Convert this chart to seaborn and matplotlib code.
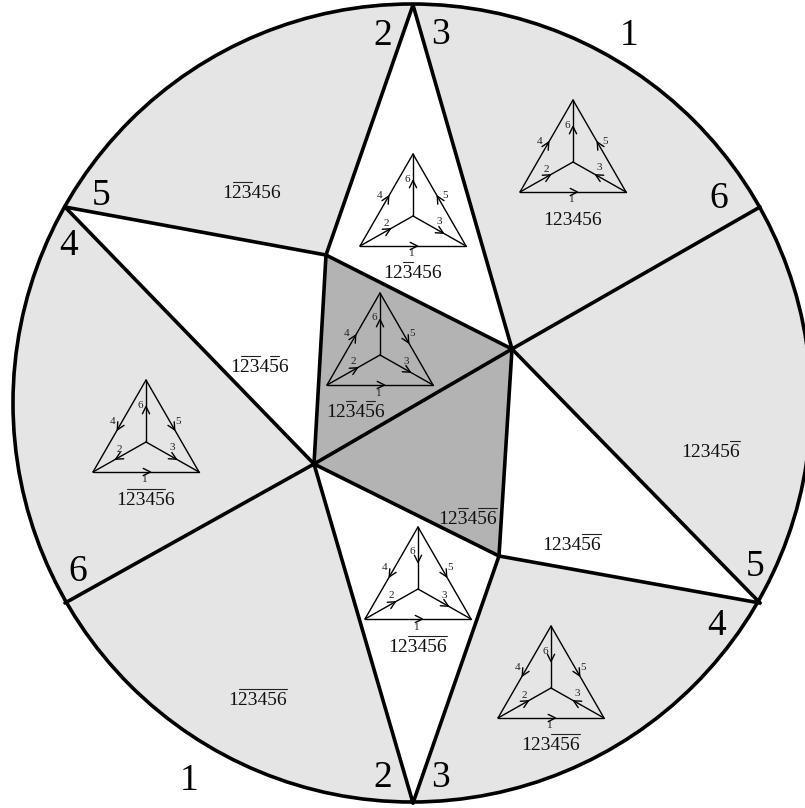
import pandas as pd
import numpy as np
import matplotlib
matplotlib.use("Agg")
import matplotlib.pyplot as plt
from matplotlib.patches import Circle
import seaborn as sns

# Outer circle and the vertices of the star (pixel coords of the picture)
circle_center = (412, 403)
circle_radius = 399
top = (413, 5)
bottom = (413, 803)
left_up = (65, 207)
left_down = (65, 603)
right_up = (760, 207)
right_down = (760, 603)
a = (326, 255)
b = (512, 349)
c = (314, 464)
d = (499, 556)

white_regions = [[top, a, b], [a, left_up, c], [b, right_down, d], [c, d, bottom]]
dark_region = [a, b, d, c]
thick_edges = [(top, a), (top, b), (a, left_up), (b, right_up), (left_up, c), (left_down, c),
               (right_down, b), (right_down, d), (bottom, c), (bottom, d), (a, b), (a, c), (b, c),
               (c, d), (b, d)]

# Small trivalent diagrams: centre of each one and which edges are barred
diagram_centers = [(573, 162), (413, 216), (380, 355), (146, 442), (418, 589), (551, 688)]
diagram_bars = [[], [3], [3, 5], [2, 3, 4, 5], [3, 4, 5, 6], [4, 5, 6]]

# Shape of a diagram around its centre
apex = (0, -62)
corner_l = (-53, 30)
corner_r = (53, 30)
centre = (0, 0)
edge_ends = {1: (corner_l, corner_r), 2: (corner_l, centre), 3: (corner_r, centre),
             4: (corner_l, apex), 5: (corner_r, apex), 6: (centre, apex)}
edge_num_pos = {1: (-1, 38), 2: (-27, 7), 3: (26, 6), 4: (-33, -21), 5: (32, -21), 6: (-6, -37)}

# Region names: digits are always 123456, only the bars change
name_bars = [[], [3], [3, 5], [2, 3, 4, 5], [3, 4, 5, 6], [4, 5, 6],
             [2, 3], [2, 3, 5], [6], [3, 5, 6], [5, 6], [2, 3, 4, 5, 6]]
name_x = [573, 413, 356, 146, 418, 551, 252, 260, 711, 468, 572, 258]
name_baseline = [225, 278, 417, 505, 652, 750, 198, 372, 457, 524, 550, 705]

# Big numbers round the circle
rim_labels = ["2", "3", "1", "6", "5", "4", "6", "1", "2", "3", "5", "4"]
rim_x = [383, 440, 629, 719, 101, 69, 78, 189, 383, 440, 755, 717]
rim_y = [36, 35, 36, 199, 196, 246, 572, 781, 778, 778, 567, 626]


def lines_frame(segments):
    rows = []
    for i, seg in enumerate(segments):
        for x, y in seg:
            rows.append({"x": x, "y": y, "seg": i})
    return pd.DataFrame(rows)


def chevron(p, q, off, bar):
    # open arrow head half way along p->q, reversed if the edge is barred
    p = np.array(p, float)
    q = np.array(q, float)
    u = (q - p) / np.linalg.norm(q - p)
    if bar:
        u = -u
    mid = (p + q) / 2
    tip = mid + 4.5 * u
    n = np.array([-u[1], u[0]])
    back = tip - 7.3 * u
    off = np.array(off)
    return [back + 3.6 * n + off, tip + off, back - 3.6 * n + off]


sns.set_theme(style="white")
plt.rcParams['font.family'] = ['Liberation Serif', 'DejaVu Serif']

fig = plt.figure(figsize=(8.05, 8.08), dpi=100)
ax = fig.add_axes([0, 0, 1, 1])

ax.add_patch(Circle(circle_center, circle_radius, facecolor="#e5e5e5", edgecolor="none", zorder=1))
for poly in white_regions:
    ax.fill(*zip(*poly), color="white", lw=0, zorder=2)
ax.fill(*zip(*dark_region), color="#b3b3b3", lw=0, zorder=2)
ax.add_patch(Circle(circle_center, circle_radius, facecolor="none", edgecolor="black", lw=2.6, zorder=4))

sns.lineplot(data=lines_frame(thick_edges), x="x", y="y", units="seg", estimator=None, sort=False,
             color="black", lw=2.6, ax=ax, zorder=3, legend=False)

thin = []
for (cx, cy), bars in zip(diagram_centers, diagram_bars):
    off = (cx, cy)
    for n, (p, q) in edge_ends.items():
        thin.append([(p[0] + cx, p[1] + cy), (q[0] + cx, q[1] + cy)])
        thin.append(chevron(p, q, off, n in bars))
        nx, ny = edge_num_pos[n]
        ax.text(cx + nx, cy + ny, str(n), fontsize=8, ha="center", va="center", color="#222222", zorder=6)
sns.lineplot(data=lines_frame(thin), x="x", y="y", units="seg", estimator=None, sort=False,
             color="black", lw=1.0, ax=ax, zorder=5, legend=False)

# names: plain digits with the bars drawn over them
digit_w = 9.72
overlines = []
for bars, x, y in zip(name_bars, name_x, name_baseline):
    ax.text(x, y, "123456", fontsize=14, ha="center", va="baseline", color="#111111", zorder=6)
    x0 = x - 3 * digit_w
    for n in bars:
        overlines.append([(x0 + (n - 1) * digit_w, y - 16), (x0 + n * digit_w, y - 16)])
sns.lineplot(data=lines_frame(overlines), x="x", y="y", units="seg", estimator=None, sort=False,
             color="#222222", lw=0.8, ax=ax, zorder=6, legend=False)

for s, x, y in zip(rim_labels, rim_x, rim_y):
    ax.text(x, y, s, fontsize=27, ha="center", va="center", color="black", zorder=6)

ax.set_xlim(0, 805)
ax.set_ylim(808, 0)
ax.axis("off")
fig.savefig("out.png", dpi=100, facecolor="white")
